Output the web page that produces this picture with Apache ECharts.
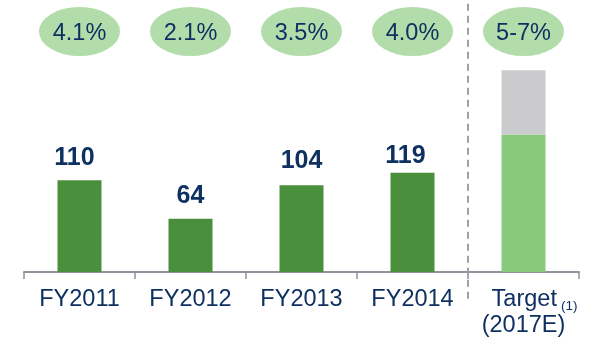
<!DOCTYPE html>
<html>
<head>
<meta charset="utf-8">
<script src="https://cdn.jsdelivr.net/npm/echarts@6/dist/echarts.min.js"></script>
<style>
  html, body { margin: 0; padding: 0; background: #ffffff; }
  #chart { width: 592px; height: 339px; }
</style>
</head>
<body>
<div id="chart"></div>
<script>
// Categories and values
const categories = ['FY2011', 'FY2012', 'FY2013', 'FY2014', 'Target'];
const actualValues = [110, 64, 104, 119];
const targetBase = 165;      // lower (green) part of the target bar
const targetUpside = 77;     // upper (grey) range of the target bar
const growthLabels = ['4.1%', '2.1%', '3.5%', '4.0%', '5-7%'];

// Layout constants
const Y_MAX = 300;
const BUBBLE_Y = 288.6;       // height on the value scale where the growth bubbles sit
const DIVIDER_X = 3.5;        // between FY2014 and the target column

const NAVY = '#0e3161';
const DARK_GREEN = '#4a8f3b';
const LIGHT_GREEN = '#88c97c';
const GREY = '#cbcbcd';
const BUBBLE = '#b2ddab';
const AXIS_GREY = '#8e939c';
const FONT = '"Liberation Sans", Arial, sans-serif';

// small nudges for individual value labels
const labelNudge = [[-5, 0], [0, 0], [0, -2], [-7, 6]];

const ellipsePath = 'path://M0 50A50 50 0 1 1 100 50A50 50 0 1 1 0 50Z';

const baseData = actualValues.map((v, i) => ({
  value: v,
  itemStyle: { color: DARK_GREEN },
  label: {
    show: true,
    position: 'top',
    distance: 10,
    offset: labelNudge[i],
    formatter: String(v),
    color: NAVY,
    fontFamily: FONT,
    fontWeight: 'bold',
    fontSize: 25
  }
}));
baseData.push({ value: targetBase, itemStyle: { color: LIGHT_GREEN }, label: { show: false } });

const upsideData = actualValues.map(() => '-');
upsideData.push(targetUpside);

const chart = echarts.init(document.getElementById('chart'), null, { renderer: 'canvas' });

chart.setOption({
  animation: false,
  backgroundColor: '#ffffff',
  grid: { left: 24, right: 13, top: 22, bottom: 66, containLabel: false },
  xAxis: [
    {
      type: 'category',
      data: categories,
      axisLine: { show: true, lineStyle: { color: AXIS_GREY, width: 2 } },
      axisTick: { show: true, length: 7, inside: false, lineStyle: { color: AXIS_GREY, width: 1.5 } },
      axisLabel: {
        interval: 0,
        margin: 15,
        color: NAVY,
        fontFamily: FONT,
        fontSize: 23.5,
        lineHeight: 26,
        formatter: (name) => name === 'Target'
          ? '{t|Target}{s|(1)}\n(2017E)'
          : name,
        rich: {
          t: { padding: [0, 0, 0, 22] },
          s: { fontSize: 13.5, lineHeight: 8, verticalAlign: 'bottom', padding: [0, 0, 0, 4] }
        }
      }
    },
    {
      type: 'value',
      min: -0.5,
      max: 4.5,
      show: false
    }
  ],
  yAxis: {
    type: 'value',
    min: 0,
    max: Y_MAX,
    show: false,
    splitLine: { show: false }
  },
  series: [
    {
      name: 'Actual',
      type: 'bar',
      stack: 'total',
      barWidth: 44,
      data: baseData
    },
    {
      name: 'Target range',
      type: 'bar',
      stack: 'total',
      barWidth: 44,
      itemStyle: { color: GREY },
      data: upsideData
    },
    {
      name: 'Growth',
      type: 'scatter',
      symbol: ellipsePath,
      symbolSize: [81, 49],
      itemStyle: { color: BUBBLE, opacity: 1 },
      label: {
        show: true,
        position: 'inside',
        offset: [0, 2],
        formatter: (p) => growthLabels[p.dataIndex],
        color: NAVY,
        fontFamily: FONT,
        fontSize: 23.5
      },
      emphasis: { disabled: true },
      data: growthLabels.map(() => BUBBLE_Y),
      z: 3
    },
    {
      name: 'Divider',
      type: 'line',
      xAxisIndex: 1,
      clip: false,
      symbol: 'none',
      lineStyle: { color: '#a0a0a2', width: 2, type: [7, 5] },
      data: [[DIVIDER_X, -32], [DIVIDER_X, 340]],
      z: 1
    }
  ]
});
</script>
</body>
</html>
